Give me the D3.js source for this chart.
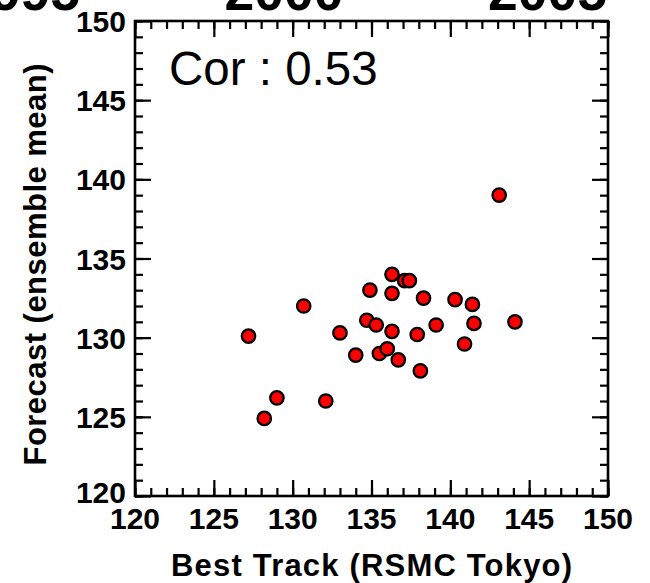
<!DOCTYPE html>
<html>
<head>
<meta charset="utf-8">
<script src="https://cdn.jsdelivr.net/npm/d3@7"></script>
<style>
  html, body { margin: 0; padding: 0; background: #fff; }
  svg { display: block; }
  text { font-family: "Liberation Sans", Arial, Helvetica, sans-serif; fill: #000; }
</style>
</head>
<body>
<svg id="chart" width="650" height="583"></svg>
<script>
// Typhoon track longitude: best track (RSMC Tokyo) vs. ensemble-mean forecast
const bestTrack = [127.2, 128.2, 129.0, 130.7, 132.1, 133.0, 134.0, 134.9, 134.7, 135.3,
                   135.5, 136.0, 136.3, 136.3, 136.3, 136.7, 137.1, 137.4, 137.9, 138.1,
                   138.3, 139.1, 140.3, 140.9, 141.4, 141.5, 143.1, 144.1];
const forecast  = [130.1, 124.9, 126.2, 132.0, 126.0, 130.3, 128.9, 133.0, 131.1, 130.8,
                   129.0, 129.3, 134.0, 132.8, 130.4, 128.6, 133.6, 133.6, 130.2, 127.9,
                   132.5, 130.8, 132.4, 129.6, 132.1, 130.9, 139.0, 131.0];
const correlation = "0.53";
const majorTicks = [120, 125, 130, 135, 140, 145, 150];
const minorTicks = d3.range(120, 151, 1);
// tick labels of the panel stacked above (only their lower edge is on this canvas)
const upperPanelYears = ["1995", "2000", "2005"];
const upperPanelYearX = [20.5, 284, 547.5];

const svg = d3.select("#chart");
const plotLeft = 135, plotRight = 608, plotTop = 21, plotBottom = 496;

const x = d3.scaleLinear().domain([120, 150]).range([plotLeft, plotRight]);
const y = d3.scaleLinear().domain([120, 150]).range([plotBottom, plotTop]);

// labels from the panel above, clipped at the top edge
svg.selectAll("text.upper").data(upperPanelYears).join("text")
  .attr("class", "upper")
  .attr("x", (d, i) => upperPanelYearX[i])
  .attr("y", 9.5)
  .attr("text-anchor", "middle")
  .style("font-size", "53.5px").style("font-weight", "bold")
  .text(d => d);

// inward ticks on all four sides
function tickLayer(axisGen, tx, ty, values, size) {
  const g = svg.append("g").attr("transform", `translate(${tx},${ty})`)
    .call(axisGen.tickValues(values).tickSize(size).tickFormat(""));
  g.select(".domain").remove();
  g.selectAll(".tick line").attr("stroke", "#000").attr("stroke-width", 2.2);
  g.selectAll(".tick text").remove();
}
tickLayer(d3.axisBottom(x), 0, plotBottom, minorTicks, -8);
tickLayer(d3.axisBottom(x), 0, plotBottom, majorTicks, -16);
tickLayer(d3.axisTop(x), 0, plotTop, minorTicks, -8);
tickLayer(d3.axisTop(x), 0, plotTop, majorTicks, -16);
tickLayer(d3.axisLeft(y), plotLeft, 0, minorTicks, -8);
tickLayer(d3.axisLeft(y), plotLeft, 0, majorTicks, -16);
tickLayer(d3.axisRight(y), plotRight, 0, minorTicks, -8);
tickLayer(d3.axisRight(y), plotRight, 0, majorTicks, -16);

// frame
svg.append("rect")
  .attr("x", plotLeft).attr("y", plotTop)
  .attr("width", plotRight - plotLeft).attr("height", plotBottom - plotTop)
  .attr("fill", "none").attr("stroke", "#000").attr("stroke-width", 2.6);

// tick labels
svg.selectAll("text.xt").data(majorTicks).join("text")
  .attr("class", "xt")
  .attr("x", d => x(d)).attr("y", 529)
  .attr("text-anchor", "middle")
  .style("font-size", "30px").style("font-weight", "bold")
  .text(d => d);
svg.selectAll("text.yt").data(majorTicks).join("text")
  .attr("class", "yt")
  .attr("x", 126).attr("y", d => y(d) + (d === 120 ? 7 : 11))
  .attr("text-anchor", "end")
  .style("font-size", "30px").style("font-weight", "bold")
  .text(d => d);

// axis titles
svg.append("text")
  .attr("x", (plotLeft + plotRight) / 2).attr("y", 576)
  .attr("text-anchor", "middle")
  .attr("textLength", 401).attr("lengthAdjust", "spacing")
  .style("font-size", "31px").style("font-weight", "bold")
  .text("Best Track (RSMC Tokyo)");
svg.append("text")
  .attr("transform", `translate(46,${(plotTop + plotBottom) / 2 + 6}) rotate(-90)`)
  .attr("text-anchor", "middle")
  .attr("textLength", 402).attr("lengthAdjust", "spacing")
  .style("font-size", "31px").style("font-weight", "bold")
  .text("Forecast (ensemble mean)");

// correlation annotation
svg.append("text")
  .attr("x", 169).attr("y", 85)
  .style("font-size", "47.5px")
  .text("Cor : " + correlation);

// scatter points
svg.append("g").selectAll("circle")
  .data(d3.zip(bestTrack, forecast)).join("circle")
  .attr("cx", d => x(d[0])).attr("cy", d => y(d[1]))
  .attr("r", 6.7)
  .attr("fill", "#ff0000").attr("stroke", "#000").attr("stroke-width", 2.3);
</script>
</body>
</html>
